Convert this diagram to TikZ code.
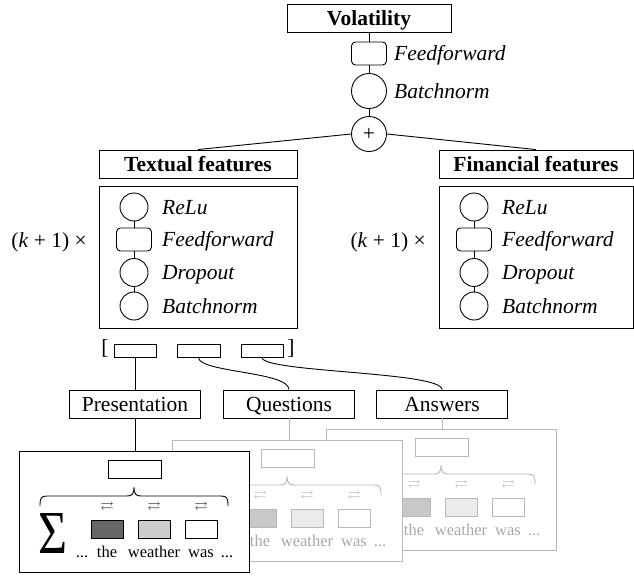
\documentclass[tikz,border=0pt]{standalone}
\usepackage{fontspec}
\setmainfont{Liberation Serif}
\usepackage{amssymb}
\usepackage{graphicx}
\definecolor{darkbox}{HTML}{666666}
\definecolor{lightbox}{HTML}{CCCCCC}
\definecolor{gline}{HTML}{B8B8B8}
\definecolor{gtext}{HTML}{A8A8A8}
\definecolor{gdark}{HTML}{C8C8C8}
\definecolor{glight}{HTML}{EBEBEB}
\newcommand\bigf{\fontsize{21.5}{24}\selectfont}
\newcommand\smallf{\fontsize{16.5}{18}\selectfont}
\newcommand\arrf{\fontsize{13}{13}\selectfont}
\tikzset{
  lw/.style={line width=0.9pt},
  conn/.style={lw},
  titlebox/.style={draw, lw, inner sep=0pt, minimum height=28pt, font=\bigf\bfseries, text height=14.5pt, text depth=0pt},
  partbox/.style={draw, lw, inner sep=0pt, minimum height=28pt, minimum width=131pt, font=\bigf, text height=14.5pt, text depth=0pt},
  layerbox/.style={draw, lw, rounded corners=4pt, inner sep=0pt, minimum width=35pt, minimum height=23pt},
  circnode/.style={draw, lw, circle, inner sep=0pt, minimum size=28pt},
  layerlbl/.style={anchor=west, inner sep=0pt, font=\bigf\itshape, text height=14.5pt, text depth=0pt},
  blockbox/.style={draw, lw, inner sep=0pt, minimum height=142pt},
  vecbox/.style={draw, lw, inner sep=0pt, minimum height=13pt},
  multlbl/.style={anchor=east, inner sep=0pt, font=\bigf, text height=14.5pt, text depth=0pt},
}
\newcommand\chainstack[2]{%
  \node[circnode] (#1relu) at (#2,207) {};
  \node[layerlbl] (#1relul) at ({#2+28},207) {ReLu};
  \node[layerbox] (#1ff) at (#2,239.5) {};
  \node[layerlbl] (#1ffl) at ({#2+28},239.5) {Feedforward};
  \node[circnode] (#1drop) at (#2,272.5) {};
  \node[layerlbl] (#1dropl) at ({#2+28},272.5) {Dropout};
  \node[circnode] (#1bn) at (#2,306) {};
  \node[layerlbl] (#1bnl) at ({#2+28},306) {Batchnorm};
  \draw[conn] (#1relu) -- (#1ff);
  \draw[conn] (#1ff) -- (#1drop);
  \draw[conn] (#1drop) -- (#1bn);
}
\newcommand\wpanel[8]{%
  \begin{scope}[shift={(#2,#3)}]
    \node[draw=#4, line width=#8, fill=white, inner sep=0pt, minimum width=230pt, minimum height=121pt, anchor=north west] (#1frame) at (0,0) {};
    \node[draw=#4, lw, inner sep=0pt, minimum width=53pt, minimum height=18pt] (#1agg) at (115.5,18.5) {};
    \draw[draw=#4, lw] (21,55) .. controls (21,47) and (22,45) .. (28,45) -- (108,45) .. controls (113,45) and (115,43) .. (115,36) .. controls (115,43) and (117,45) .. (122,45) -- (202,45) .. controls (208,45) and (209,47) .. (209,55);
    \node[text=#7, font=\arrf, inner sep=0pt] (#1arra) at (88,56) {$\rightleftarrows$};
    \node[text=#7, font=\arrf, inner sep=0pt] (#1arrb) at (135,56) {$\rightleftarrows$};
    \node[text=#7, font=\arrf, inner sep=0pt] (#1arrc) at (182,56) {$\rightleftarrows$};
    \node[draw=#4, lw, fill=#5, inner sep=0pt, minimum width=32pt, minimum height=18pt] (#1toka) at (88,78) {};
    \node[draw=#4, lw, fill=#6, inner sep=0pt, minimum width=32pt, minimum height=18pt] (#1tokb) at (135,78) {};
    \node[draw=#4, lw, fill=white, inner sep=0pt, minimum width=32pt, minimum height=18pt] (#1tokc) at (182,78) {};
    \node[text=#7, font=\smallf, inner sep=0pt, anchor=base] (#1worda) at (88,106) {the};
    \node[text=#7, font=\smallf, inner sep=0pt, anchor=base] (#1wordb) at (135,106) {weather};
    \node[text=#7, font=\smallf, inner sep=0pt, anchor=base] (#1wordc) at (182,106) {was};
    \node[text=#7, font=\smallf, inner sep=0pt, anchor=base] (#1dotsb) at (208,106) {...};
  \end{scope}}
\begin{document}
\begin{tikzpicture}[x=1pt,y=-1pt]
\useasboundingbox (0,0) rectangle (634,576);
% top column
\node[titlebox, minimum width=164pt] (vol) at (369,18) {Volatility};
\node[layerbox] (tff) at (369,53.5) {};
\node[layerlbl] (tffl) at (394,53.5) {Feedforward};
\node[circnode, minimum size=35pt] (tbn) at (369,91) {};
\node[layerlbl] (tbnl) at (394,91) {Batchnorm};
\node[circnode, minimum size=35pt, font=\bigf] (plus) at (369,134) {+};
\draw[conn] (vol) -- (tff);
\draw[conn] (tff) -- (tbn);
\draw[conn] (tbn) -- (plus);
% feature headers
\node[titlebox, minimum width=198pt] (tf) at (198,164) {Textual features};
\node[titlebox, minimum width=194pt] (fn) at (536,164) {Financial features};
\draw[conn] (plus.west) -- (tf.north);
\draw[conn] (plus.east) -- (fn.north);
% blocks
\node[blockbox, minimum width=198pt] (tb) at (198,257) {};
\node[blockbox, minimum width=194pt] (fb) at (536,257) {};
\chainstack{t}{134}
\chainstack{f}{474}
\node[multlbl] (tk) at (87,240) {(\textit{k} + 1) ×};
\node[multlbl] (fk) at (426,240) {(\textit{k} + 1) ×};
% vector row
\node[inner sep=0pt, font=\bigf] (lbr) at (105,348) {[};
\node[vecbox, minimum width=42pt] (v1) at (135,350.5) {};
\node[vecbox, minimum width=43pt] (v2) at (198.5,350.5) {};
\node[vecbox, minimum width=42pt] (v3) at (262,350.5) {};
\node[inner sep=0pt, font=\bigf] (rbr) at (291,348) {]};
% parts
\node[partbox] (pres) at (135,404) {Presentation};
\node[partbox] (ques) at (289,404) {Questions};
\node[partbox] (ans) at (442,404) {Answers};
\draw[conn] (v1) -- (pres);
\draw[conn] (v2.south) .. controls +(0,15) and +(0,-18) .. (ques.north);
\draw[conn] (v3.south) .. controls +(0,15) and +(0,-18) .. (ans.north);
% panels
\wpanel{bk}{326}{429}{gline}{gdark}{glight}{gtext}{0.9pt}
\wpanel{md}{172}{440}{gline}{gdark}{glight}{gtext}{0.9pt}
\wpanel{fr}{19}{451}{black}{darkbox}{lightbox}{black}{1.1pt}
\node[inner sep=0pt] (frsum) at (52.5,533) {\resizebox{29pt}{40pt}{Σ}};
\node[font=\smallf, inner sep=0pt, anchor=base] (frdotsa) at (82,557) {...};
\draw[conn] (pres.south) -- (pres.south |- frframe.north);
\draw[conn, gline] (ques.south) -- (ques.south |- mdframe.north);
\draw[conn, gline] (ans.south) -- (ans.south |- bkframe.north);
\end{tikzpicture}
\end{document}
